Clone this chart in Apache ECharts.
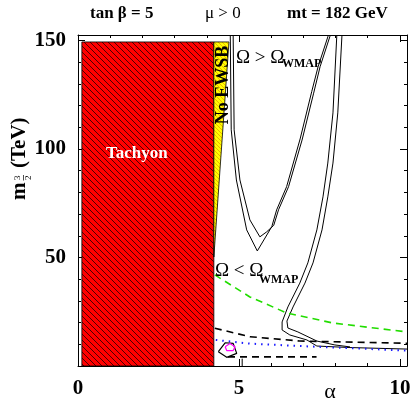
<!DOCTYPE html>
<html>
<head>
<meta charset="utf-8">
<script src="https://cdn.jsdelivr.net/npm/echarts@6/dist/echarts.min.js"></script>
<style>
html, body { margin: 0; padding: 0; background: #fff; }
#chart { width: 415px; height: 401px; }
</style>
</head>
<body>
<div id="chart"></div>
<script>
// axis ranges / ticks
var xRange = [0, 10.22];
var yRange = [0, 152.5];
var xLabels = [0, 5, 10];
var yLabels = [50, 100, 150];

// excluded regions, points are [alpha, m3/2]
var tachyon = [[0.12, 0], [4.22, 0], [4.22, 149.3], [0.12, 149.3]];
var noEwsb = [[4.22, 50.2], [4.69, 149.3], [4.22, 149.3]];

// relic density contours (pairs of thin lines)
var bandU_outer = [[4.73, 152.5], [4.76, 108.8], [4.92, 85.7], [5.24, 62.7], [5.57, 53.0], [6.02, 64.2],
	[6.17, 71.9], [6.48, 82.6], [6.90, 104.6], [7.26, 126.4], [7.46, 138.0], [7.76, 151.6], [7.78, 152.5]];
var bandU_inner = [[4.82, 152.5], [4.85, 108.8], [5.03, 85.7], [5.34, 67.3], [5.65, 59.5], [5.86, 61.8],
	[6.08, 64.8], [6.23, 72.0], [6.54, 82.6], [6.96, 104.1], [7.32, 125.7], [7.52, 137.9], [7.82, 151.6], [7.84, 152.5]];
var bandR_left = [[8.04, 152.5], [7.92, 116.6], [7.76, 93.5], [7.61, 77.9], [7.42, 62.7], [7.14, 47.5], [6.89, 38.2],
	[6.52, 27.2], [6.34, 20.3], [6.34, 16.6], [6.58, 14.3], [7.11, 12.0], [7.42, 9.2], [8.45, 8.5], [10.22, 7.8]];
var bandR_right = [[8.20, 152.5], [8.07, 116.6], [7.92, 93.5], [7.76, 77.9], [7.58, 62.7], [7.30, 47.5], [7.05, 38.2],
	[6.68, 27.2], [6.49, 20.7], [6.52, 17.5], [6.83, 15.7], [7.42, 11.5], [7.98, 9.7], [8.45, 8.8]];
var stubA = [[5.1, 0], [5.1, 3.4]];

// other constraints
var greenDash = [[4.25, 42.0], [5.34, 31.8], [6.49, 24.4], [7.92, 19.8], [10.22, 15.7]];
var blackDashTop = [[4.25, 17.4], [5.34, 13.5], [6.89, 11.5], [10.22, 10.5]];
var blueDots = [[4.28, 12.0], [5.34, 10.3], [6.89, 9.2], [10.22, 7.1]];
var blackDashLow = [[4.66, 4.2], [7.41, 4.2]];
var blackPenta = [[4.36, 6.6], [4.57, 10.7], [4.82, 10.4], [4.93, 5.8], [4.62, 4.0], [4.36, 6.6]];
var magentaPenta = [[4.57, 8.9], [4.72, 10.4], [4.88, 8.9], [4.82, 7.1], [4.62, 7.1], [4.57, 8.9]];

var serif = 'Liberation Serif';

function hatch(bg, fg, step, lw) {
	var c = document.createElement('canvas');
	c.width = step; c.height = step;
	var g = c.getContext('2d');
	g.fillStyle = bg;
	g.fillRect(0, 0, step, step);
	g.strokeStyle = fg;
	g.lineWidth = lw;
	g.beginPath();
	g.moveTo(-1, -1); g.lineTo(step + 1, step + 1);
	g.moveTo(-1, step - 1); g.lineTo(1, step + 1);
	g.moveTo(step - 1, -1); g.lineTo(step + 1, 1);
	g.stroke();
	return { image: c, repeat: 'repeat' };
}

function area(pts, fill) {
	return {
		type: 'custom',
		xAxisIndex: 0, yAxisIndex: 0,
		data: [0],
		silent: true,
		renderItem: function (params, api) {
			return {
				type: 'polygon',
				shape: { points: pts.map(function (p) { return api.coord(p) }) },
				style: { fill: fill, stroke: '#000', lineWidth: 0.8 }
			}
		}
	}
}

function line(data, color, type, width) {
	return {
		type: 'line',
		xAxisIndex: 0, yAxisIndex: 0,
		data: data,
		showSymbol: false,
		silent: true,
		animation: false,
		lineStyle: { color: color, width: width || 1, type: type || 'solid' }
	}
}

var chart = echarts.init(document.getElementById('chart'))

var axisBase = {
	type: 'value',
	splitLine: { show: false },
	axisLine: { show: true, onZero: false, lineStyle: { color: '#000', width: 1 } },
	axisTick: { show: true, inside: true, length: 7, lineStyle: { color: '#000' } },
	minorTick: { show: true, splitNumber: 5, length: 3, lineStyle: { color: '#000' } }
}

var option = {
	animation: false,
	grid: { left: 78, right: 8, top: 35, bottom: 35 },
	xAxis: [
		Object.assign({}, axisBase, {
			min: xRange[0], max: xRange[1], interval: 5, position: 'bottom',
			axisLabel: {
				margin: 12, color: '#000', fontFamily: serif, fontWeight: 'bold', fontSize: 21,
				showMaxLabel: false,
				formatter: function (v) { return xLabels.indexOf(v) >= 0 ? String(v) : '' }
			}
		}),
		Object.assign({}, axisBase, {
			min: xRange[0], max: xRange[1], interval: 5, position: 'top',
			axisLabel: { show: false }
		})
	],
	yAxis: [
		Object.assign({}, axisBase, {
			min: yRange[0], max: yRange[1], interval: 50, position: 'left',
			axisLabel: {
				margin: 12, color: '#000', fontFamily: serif, fontWeight: 'bold', fontSize: 21,
				showMaxLabel: false,
				formatter: function (v) { return yLabels.indexOf(v) >= 0 ? String(v) : '' }
			}
		}),
		Object.assign({}, axisBase, {
			min: yRange[0], max: yRange[1], interval: 50, position: 'right',
			axisLabel: { show: false }
		})
	],
	graphic: [
		{ type: 'text', left: 90, top: 5, style: { text: 'tan β = 5', font: 'bold 17px ' + serif, fill: '#000' } },
		{ type: 'text', left: 205, top: 5, style: { text: 'μ > 0', font: '17px ' + serif, fill: '#000' } },
		{ type: 'text', left: 287, top: 5, style: { text: 'mt = 182 GeV', font: 'bold 17px ' + serif, fill: '#000' } },
		{ type: 'text', left: 106, top: 145, z: 10, style: { text: 'Tachyon', font: 'bold 17px ' + serif, fill: '#fff' } },
		{
			type: 'text', x: 214, y: 85, rotation: Math.PI / 2, z: 10,
			style: { text: 'No EWSB', font: 'bold 18px ' + serif, fill: '#000', align: 'center', verticalAlign: 'top' }
		},
		{ type: 'text', x: 236, y: 58, z: 10, style: { text: 'Ω > Ω', font: '19px ' + serif, fill: '#000', verticalAlign: 'middle' } },
		{ type: 'text', x: 282, y: 64, z: 10, style: { text: 'WMAP', font: 'bold 12px ' + serif, fill: '#000', verticalAlign: 'middle' } },
		{ type: 'text', x: 215, y: 271, z: 10, style: { text: 'Ω < Ω', font: '19px ' + serif, fill: '#000', verticalAlign: 'middle' } },
		{ type: 'text', x: 259, y: 280, z: 10, style: { text: 'WMAP', font: 'bold 12px ' + serif, fill: '#000', verticalAlign: 'middle' } },
		{ type: 'text', x: 330, y: 392, style: { text: 'α', font: '22px ' + serif, fill: '#000', align: 'center', verticalAlign: 'middle' } },
		{
			type: 'group', x: 20, y: 154, rotation: Math.PI / 2,
			children: [
				{ type: 'text', x: -46, y: 0, style: { text: 'm', font: 'bold 21px ' + serif, fill: '#000', verticalAlign: 'middle' } },
				{ type: 'text', x: -26, y: 2, style: { text: '3', font: '9px ' + serif, fill: '#000', verticalAlign: 'bottom' } },
				{ type: 'line', shape: { x1: -26.5, y1: 3.5, x2: -21, y2: 3.5 }, style: { stroke: '#000', lineWidth: 0.7 } },
				{ type: 'text', x: -26, y: 4, style: { text: '2', font: '9px ' + serif, fill: '#000', verticalAlign: 'top' } },
				{ type: 'text', x: -14, y: 0, style: { text: '(TeV)', font: 'bold 21px ' + serif, fill: '#000', verticalAlign: 'middle' } }
			]
		}
	],
	series: [
		area(tachyon, hatch('#ff0000', '#200000', 6, 0.8)),
		area(noEwsb, hatch('#ffff00', '#e8a000', 4, 0.8)),
		line(bandU_outer, '#000'),
		line(bandU_inner, '#000'),
		line(bandR_left, '#000'),
		line(bandR_right, '#000'),
		line(stubA, '#000'),
		line(greenDash, '#22dd00', [7, 5], 1.6),
		line(blackDashTop, '#000', [7, 5], 1.6),
		line(blueDots, '#1a1aff', [1.5, 5], 2),
		line(blackDashLow, '#000', [7, 5], 1.6),
		line(blackPenta, '#000', 'solid', 1.2),
		line(magentaPenta, '#ff00ff', 'solid', 1.2)
	]
}
chart.setOption(option)
</script>
</body>
</html>
